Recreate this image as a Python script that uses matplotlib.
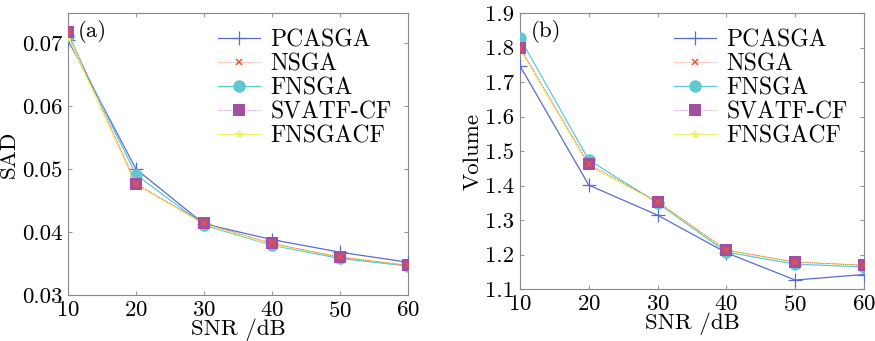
import matplotlib
matplotlib.use("Agg")
import matplotlib.pyplot as plt

snr = [10, 20, 30, 40, 50, 60]
names = ["PCASGA", "NSGA", "FNSGA", "SVATF-CF", "FNSGACF"]

# (a) SAD
sad_pcasga = [0.0705, 0.0500, 0.0413, 0.0388, 0.0368, 0.0352]
sad_nsga = [0.0718, 0.0477, 0.0414, 0.0382, 0.0360, 0.0347]
sad_fnsga = [0.0711, 0.0491, 0.0411, 0.0379, 0.0358, 0.0346]
sad_svatf = [0.0718, 0.0477, 0.0414, 0.0382, 0.0360, 0.0347]
sad_fnsgacf = [0.0710, 0.0475, 0.0413, 0.0380, 0.0361, 0.0347]

# (b) Volume
vol_pcasga = [1.747, 1.401, 1.314, 1.205, 1.126, 1.142]
vol_nsga = [1.800, 1.462, 1.353, 1.213, 1.178, 1.169]
vol_fnsga = [1.827, 1.474, 1.349, 1.207, 1.172, 1.164]
vol_svatf = [1.800, 1.462, 1.353, 1.213, 1.178, 1.169]
vol_fnsgacf = [1.795, 1.456, 1.352, 1.212, 1.178, 1.169]

styles = [
    dict(color="#5b6cc8", marker="+", ms=10, mew=0.9, zorder=3),
    dict(color="#e8553a", marker="x", ms=4, mew=1.1, lw=0.5, ls=":", zorder=7),
    dict(color="#5fc9d3", marker="o", ms=9, mew=0, zorder=4),
    dict(color="#a24fa3", marker="s", ms=8.5, mew=0, lw=0.5, ls=":", zorder=6),
    dict(color="#f2f06a", marker="*", ms=6, mew=0.8, zorder=5),
]

plt.rcParams['font.family'] = ['cmr10', 'DejaVu Serif']
plt.rcParams['axes.formatter.use_mathtext'] = True
plt.rcParams['font.size'] = 16.5


def panel(ax, series, ylabel, ylim, yticks, tag):
    for name, y, st in zip(names, series, styles):
        kw = dict(lw=0.9)
        kw.update(st)
        ax.plot(snr, y, label=name, **kw)
    ax.set_xlim(10, 60)
    ax.set_ylim(*ylim)
    ax.set_xticks(snr)
    ax.set_yticks(yticks)
    ax.set_xlabel("SNR /dB", labelpad=-1.5)
    ax.set_ylabel(ylabel, labelpad=2)
    ax.tick_params(direction="in", top=True, right=True, length=3, color="#999999", pad=4)
    for s in ax.spines.values():
        s.set_color("#888888")
    ax.text(0.03, 0.975, tag, transform=ax.transAxes, va="top", ha="left")
    ax.legend(loc="upper right", frameon=False, handlelength=1.75, handletextpad=0.45,
              labelspacing=0.08, borderaxespad=0.3, fontsize=17)


fig = plt.figure(figsize=(8.75, 3.41), dpi=100)
ax1 = fig.add_axes([68 / 875, 1 - 295 / 341, 340 / 875, 282 / 341])
ax2 = fig.add_axes([520 / 875, 1 - 289 / 341, 344 / 875, 276 / 341])

panel(ax1, [sad_pcasga, sad_nsga, sad_fnsga, sad_svatf, sad_fnsgacf], "SAD",
      (0.03, 0.0748), [0.03, 0.04, 0.05, 0.06, 0.07], "(a)")
ax1.set_yticklabels(["0.03", "0.04", "0.05", "0.06", "0.07"])
panel(ax2, [vol_pcasga, vol_nsga, vol_fnsga, vol_svatf, vol_fnsgacf], "Volume",
      (1.1, 1.9), [1.1, 1.2, 1.3, 1.4, 1.5, 1.6, 1.7, 1.8, 1.9], "(b)")
ax2.set_yticklabels(["1.1", "1.2", "1.3", "1.4", "1.5", "1.6", "1.7", "1.8", "1.9"])

fig.savefig("out.png", dpi=100)
